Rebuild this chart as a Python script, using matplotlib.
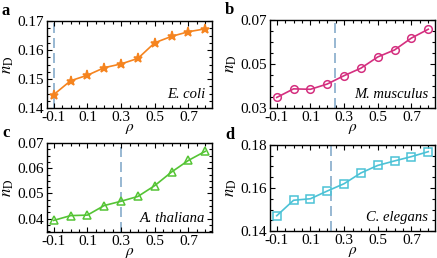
import matplotlib
matplotlib.use("Agg")
import matplotlib.pyplot as plt
from matplotlib.ticker import MultipleLocator

plt.rcParams['font.family'] = ['Liberation Serif', 'DejaVu Serif']
plt.rcParams['mathtext.fontset'] = 'stix'

# data
rho = [-0.1, 0.0, 0.1, 0.2, 0.3, 0.4, 0.5, 0.6, 0.7, 0.8]
ecoli = [0.1446, 0.1494, 0.1513, 0.1539, 0.1552, 0.1571, 0.1625, 0.1647, 0.1663, 0.1673]
mmus = [0.0348, 0.0387, 0.0385, 0.0409, 0.0447, 0.0481, 0.0532, 0.0564, 0.0618, 0.0658]
athal = [0.0393, 0.0412, 0.0414, 0.0452, 0.0469, 0.0488, 0.0531, 0.0585, 0.0631, 0.0667]
celeg = [0.1471, 0.1543, 0.1550, 0.1586, 0.1620, 0.1670, 0.1705, 0.1726, 0.1746, 0.1769]
crit = [-0.1, 0.245, 0.3, 0.222]
names = ['E. coli', 'M. musculus', 'A. thaliana', 'C. elegans']
letters = ['a', 'b', 'c', 'd']

series = [ecoli, mmus, athal, celeg]
colors = ['#f5841f', '#d42f7f', '#55c435', '#4cc2d6']
markers = ['*', 'o', '^', 's']
fills = [True, False, False, False]
ylims = [(0.14, 0.17), (0.03, 0.07), (0.0347, 0.07), (0.14, 0.18)]
yticks = [[0.14, 0.15, 0.16, 0.17], [0.03, 0.05, 0.07],
          [0.04, 0.05, 0.06, 0.07], [0.14, 0.16, 0.18]]
ylabs = [['0.14', '0.15', '0.16', '0.17'], ['0.03', '0.05', '0.07'],
         ['0.04', '0.05', '0.06', '0.07'], ['0.14', '0.16', '0.18']]
yminor = [0.0025, 0.005, 0.0025, 0.005]

W, H = 437, 258
boxes = [(47, 21, 212, 108), (270, 20, 435, 108),
         (47, 143, 212, 232), (270, 145, 435, 231)]

fig = plt.figure(figsize=(W / 100, H / 100), dpi=100)

for i in range(4):
    l, t, r, b = boxes[i]
    ax = fig.add_axes([l / W, 1 - b / H, (r - l) / W, (b - t) / H])
    c = colors[i]
    ax.plot(rho, series[i], color=c, lw=1.2, marker=markers[i],
            ms=6.5 if markers[i] == '*' else 5.5,
            mfc=c if fills[i] else 'none', mec=c, mew=1.1)
    ax.axvline(crit[i], color='#86abcb', ls=(0, (6, 3)), lw=1.2, zorder=0)
    ax.set_xlim(-0.14, 0.84)
    ax.set_ylim(*ylims[i])
    ax.set_xticks([-0.1, 0.1, 0.3, 0.5, 0.7])
    ax.set_xticklabels(['-0.1', '0.1', '0.3', '0.5', '0.7'])
    ax.xaxis.set_minor_locator(MultipleLocator(0.05))
    ax.set_yticks(yticks[i])
    ax.set_yticklabels(ylabs[i])
    ax.yaxis.set_minor_locator(MultipleLocator(yminor[i]))
    ax.tick_params(which='both', direction='in', top=True, right=True,
                   labelsize=11, width=0.8, pad=2)
    ax.tick_params(which='major', length=3.5)
    ax.tick_params(which='minor', length=2)
    for s in ax.spines.values():
        s.set_linewidth(1.0)
    ax.set_ylabel(r'$n_{\mathrm{D}}$', fontsize=12, labelpad=1)
    ax.set_xlabel(r'$\rho$', fontsize=11, labelpad=-1)
    ax.text(0.96, 0.08, names[i], transform=ax.transAxes, ha='right',
            va='bottom', fontsize=10.5, style='italic')
    fig.text((l - 45) / W, 1 - (t - 10) / H, letters[i], fontsize=12,
             fontweight='bold', va='center', ha='left')

fig.savefig('out.png', dpi=100)
